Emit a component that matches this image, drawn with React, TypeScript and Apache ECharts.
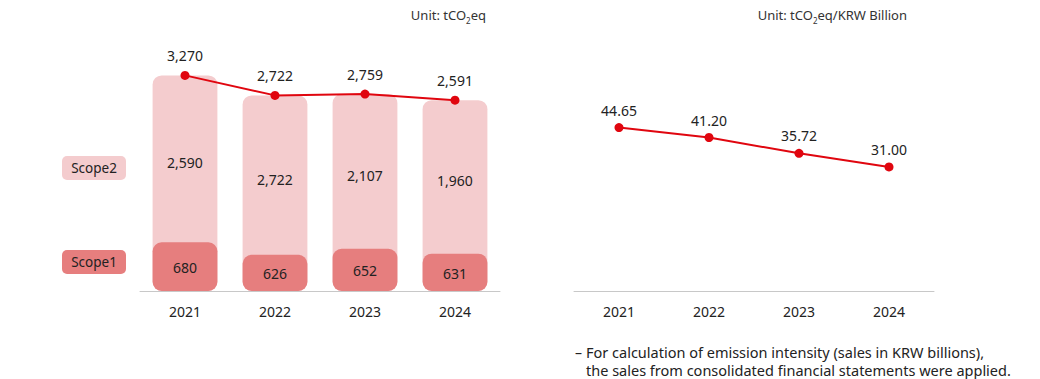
import React, { useEffect, useRef } from 'react';
import * as echarts from 'echarts';

const years = ['2021', '2022', '2023', '2024'];
const totalEmissions = [3270, 2722, 2759, 2591];
const scope1 = [680, 626, 652, 631];
const scope2 = [2590, 2722, 2107, 1960];
const intensity = [44.65, 41.2, 35.72, 31.0];

const T_MIN = -2640;
const T_MAX = 4240;
const S_MIN = 470;
const S_MAX = 1552;
const I_MIN = -12;
const I_MAX = 75;

const FONT = 'Noto Sans';
const LIGHT = '#F4CCCE';
const DARK = '#E67E7E';
const RED = '#E0060F';
const TEXT = '#222222';

const fmt = (v: number) => v.toLocaleString('en-US');

export default function App() {
  const ref = useRef<HTMLDivElement>(null);
  useEffect(() => {
    document.body.style.margin = '0';
    const chart = echarts.init(ref.current!, null, { renderer: 'svg' });
    const BAR_RATIO = 0.72;
    const RADIUS = 9;

    const unitText = (x: number, sub: string, rest: string) => ({
      type: 'text',
      x,
      y: 15,
      style: {
        text: `{a|${sub}}{s|2}{a|${rest}}`,
        align: 'right',
        verticalAlign: 'middle',
        rich: {
          a: { fontSize: 13, fontFamily: FONT, fill: '#333', lineHeight: 18, verticalAlign: 'middle' },
          s: { fontSize: 8, fontFamily: FONT, fill: '#333', lineHeight: 10, verticalAlign: 'bottom' },
        },
      },
    });

    const badge = (y: number, label: string, color: string) => ({
      type: 'group',
      x: 62,
      y,
      children: [
        { type: 'rect', shape: { x: 0, y: 0, width: 64, height: 24, r: 5 }, style: { fill: color } },
        {
          type: 'text',
          x: 32,
          y: 12,
          style: { text: label, align: 'center', verticalAlign: 'middle', fontSize: 13.5, fontFamily: FONT, fill: TEXT },
        },
      ],
    });

    chart.setOption({
      animation: false,
      textStyle: { fontFamily: FONT },
      grid: [
        { left: 140, width: 360, top: 40, bottom: 88 },
        { left: 574, width: 360, top: 40, bottom: 88 },
      ],
      xAxis: [0, 1].map((i) => ({
        type: 'category',
        data: years,
        gridIndex: i,
        axisLine: { show: true, onZero: false, lineStyle: { color: '#c8c8c8', width: 1 } },
        axisTick: { show: false },
        axisLabel: { color: TEXT, fontSize: 14, margin: 13, fontFamily: FONT },
        splitLine: { show: false },
      })),
      yAxis: [
        { type: 'value', gridIndex: 0, min: T_MIN, max: T_MAX, show: false },
        { type: 'value', gridIndex: 0, min: S_MIN, max: S_MAX, show: false },
        { type: 'value', gridIndex: 1, min: I_MIN, max: I_MAX, show: false },
      ],
      series: [
        {
          type: 'custom',
          name: 'Scope2',
          xAxisIndex: 0,
          yAxisIndex: 0,
          z: 1,
          data: years.map((_, i) => [i, totalEmissions[i], scope1[i], scope2[i]]),
          renderItem: (params: any, api: any) => {
            const i = api.value(0);
            const top = api.coord([i, api.value(1)]);
            const base = api.coord([i, T_MIN]);
            const w = api.size([1, 0])[0] * BAR_RATIO;
            const cs = params.coordSys;
            const s1Top = cs.y + cs.height - ((api.value(2) - S_MIN) / (S_MAX - S_MIN)) * cs.height;
            return {
              type: 'group',
              children: [
                {
                  type: 'rect',
                  shape: { x: top[0] - w / 2, y: top[1], width: w, height: base[1] - top[1], r: RADIUS },
                  style: { fill: LIGHT },
                },
                {
                  type: 'text',
                  style: {
                    text: fmt(api.value(3)),
                    x: top[0],
                    y: (top[1] + s1Top) / 2 + 4,
                    align: 'center',
                    verticalAlign: 'middle',
                    fontSize: 14,
                    fontFamily: FONT,
                    fill: TEXT,
                  },
                },
              ],
            };
          },
        },
        {
          type: 'custom',
          name: 'Scope1',
          xAxisIndex: 0,
          yAxisIndex: 1,
          z: 2,
          data: years.map((_, i) => [i, scope1[i]]),
          renderItem: (params: any, api: any) => {
            const i = api.value(0);
            const top = api.coord([i, api.value(1)]);
            const base = api.coord([i, S_MIN]);
            const w = api.size([1, 0])[0] * BAR_RATIO;
            return {
              type: 'group',
              children: [
                {
                  type: 'rect',
                  shape: { x: top[0] - w / 2, y: top[1], width: w, height: base[1] - top[1], r: RADIUS },
                  style: { fill: DARK },
                },
                {
                  type: 'text',
                  style: {
                    text: fmt(api.value(1)),
                    x: top[0],
                    y: (top[1] + base[1]) / 2 + 1,
                    align: 'center',
                    verticalAlign: 'middle',
                    fontSize: 14,
                    fontFamily: FONT,
                    fill: TEXT,
                  },
                },
              ],
            };
          },
        },
        {
          type: 'line',
          name: 'Total',
          xAxisIndex: 0,
          yAxisIndex: 0,
          z: 5,
          data: totalEmissions,
          symbol: 'circle',
          symbolSize: 9,
          lineStyle: { color: RED, width: 2 },
          itemStyle: { color: RED },
          label: {
            show: true,
            position: 'top',
            distance: 8,
            color: TEXT,
            fontSize: 14,
            fontFamily: FONT,
            formatter: (p: any) => fmt(p.value),
          },
        },
        {
          type: 'line',
          name: 'Intensity',
          xAxisIndex: 1,
          yAxisIndex: 2,
          z: 5,
          data: intensity,
          symbol: 'circle',
          symbolSize: 9,
          lineStyle: { color: RED, width: 2 },
          itemStyle: { color: RED },
          label: {
            show: true,
            position: 'top',
            distance: 6,
            color: TEXT,
            fontSize: 14,
            fontFamily: FONT,
            formatter: (p: any) => p.value.toFixed(2),
          },
        },
      ],
      graphic: [
        unitText(486, 'Unit: tCO', 'eq'),
        unitText(907, 'Unit: tCO', 'eq/KRW Billion'),
        badge(156, 'Scope2', LIGHT),
        badge(250, 'Scope1', DARK),
        {
          type: 'text',
          x: 575,
          y: 352,
          style: { text: '–', align: 'left', verticalAlign: 'middle', fontSize: 14, fontFamily: FONT, fill: TEXT },
        },
        {
          type: 'text',
          x: 586,
          y: 343,
          style: {
            text:
              'For calculation of emission intensity (sales in KRW billions),\nthe sales from consolidated financial statements were applied.',
            align: 'left',
            verticalAlign: 'top',
            fontSize: 14.5,
            lineHeight: 18,
            fontFamily: FONT,
            fill: TEXT,
          },
        },
      ],
    });
    return () => chart.dispose();
  }, []);
  return <div ref={ref} style={{ width: 1040, height: 379 }} />;
}
